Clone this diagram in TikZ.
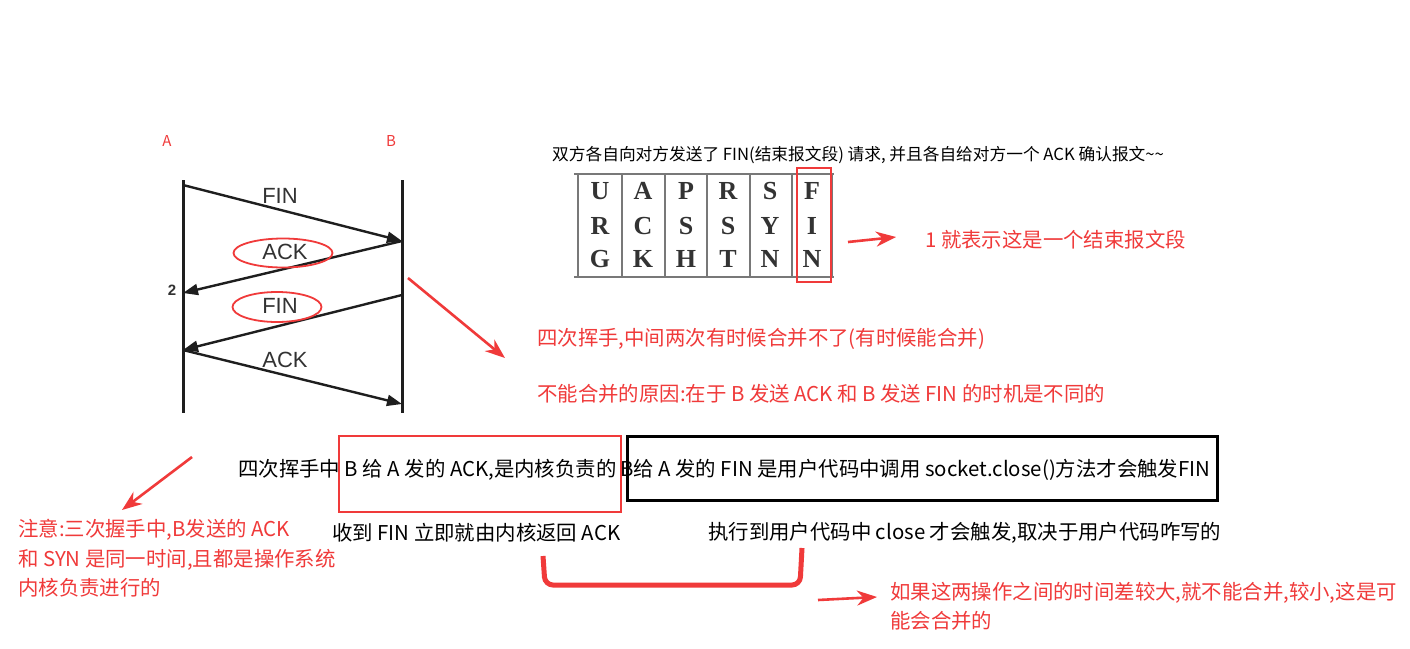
\documentclass[tikz,border=0pt]{standalone}
\usepackage{fontspec}
\setmainfont{Noto Sans CJK SC}
\newfontfamily\labf{Liberation Sans}
\newfontfamily\flagf{Liberation Serif}
\usetikzlibrary{arrows.meta,shapes.geometric}
\definecolor{annored}{RGB}{240,58,58}
\definecolor{seqgray}{RGB}{30,30,30}
\definecolor{labgray}{RGB}{50,50,50}
\definecolor{tabgray}{RGB}{120,120,120}
\tikzset{
  txt/.style={inner sep=0pt, anchor=west, font=\fontsize{20.4}{24}\selectfont},
  redtxt/.style={txt, text=annored},
  seqline/.style={draw=seqgray, line width=3pt},
  msg/.style={draw=seqgray, line width=2.4pt, -{Triangle[length=15pt,width=11pt]}},
  msglab/.style={inner sep=0pt, text=labgray, font=\labf\fontsize{22}{24}\selectfont},
  redell/.style={draw=annored, line width=1.8pt, ellipse, inner sep=0pt},
  redarrow/.style={draw=annored, fill=annored, line width=2.6pt, -{Stealth[length=20pt,width=15pt]}},
  flagletter/.style={inner sep=0pt, font=\flagf\bfseries\fontsize{26}{28}\selectfont, text=black!80},
  tabline/.style={draw=tabgray, line width=1.6pt}
}
\begin{document}
\begin{tikzpicture}[x=1pt,y=-1pt]
\useasboundingbox (0,0) rectangle (1410,648);
\fill[white] (0,0) rectangle (1410,648);

% ---------- sequence diagram ----------
\node[inner sep=0pt, text=annored, font=\fontsize{15}{16}\selectfont] (labA) at (167,141) {A};
\node[inner sep=0pt, text=annored, font=\fontsize{15}{16}\selectfont] (labB) at (391,141) {B};
\coordinate (Atop) at (183,180); \coordinate (Abot) at (183,413);
\coordinate (Btop) at (402,180); \coordinate (Bbot) at (402,413);
\draw[seqline] (Atop) -- (Abot);
\draw[seqline] (Btop) -- (Bbot);
\coordinate (a1) at (183,185);
\coordinate (b1) at (402,241);
\coordinate (a2) at (183,293);
\coordinate (b2) at (402,295);
\coordinate (a3) at (183,350);
\coordinate (b3) at (402,404);
\draw[msg] (a1) -- (b1);
\draw[msg] (b1) -- (a2);
\draw[msg] (b2) -- (a3);
\draw[msg] (a3) -- (b3);
\node[msglab] (fin1) at (280,196) {FIN};
\node[msglab] (ack1) at (285,252) {ACK};
\node[msglab] (fin2) at (280,306) {FIN};
\node[msglab] (ack2) at (285,360) {ACK};
\node[redell, minimum width=99pt, minimum height=29pt] (e1) at (283,253) {};
\node[redell, minimum width=89pt, minimum height=30pt] (e2) at (277,307) {};
\node[inner sep=0pt, text=labgray, font=\labf\bfseries\fontsize{15}{16}\selectfont] (two) at (172,290) {2};

% ---------- flags table ----------
\node[inner sep=0pt, anchor=west, font=\fontsize{16.7}{20}\selectfont] (title) at (552,155)
  {双方各自向对方发送了 FIN(结束报文段) 请求, 并且各自给对方一个 ACK 确认报文\textasciitilde\textasciitilde};
\coordinate (tTL) at (574,174); \coordinate (tTR) at (834,174);
\coordinate (tBL) at (574,277); \coordinate (tBR) at (834,277);
\draw[tabline] (tTL) -- (tTR);
\draw[tabline] (tBL) -- (tBR);
\foreach \xx in {578,622,665,707,750,792,832} {\draw[tabline, line width=1.2pt] (\xx,174) -- (\xx,277);}
\foreach \lt/\xx in {U/600,A/643,P/686,R/728,S/770,F/812} {\node[flagletter] at (\xx,191) {\lt};}
\foreach \lt/\xx in {R/600,C/643,S/686,S/728,Y/770,I/812} {\node[flagletter] at (\xx,226) {\lt};}
\foreach \lt/\xx in {G/600,K/643,H/686,T/728,N/770,N/812} {\node[flagletter] at (\xx,259) {\lt};}
\node[draw=annored, line width=2pt, inner sep=0pt, minimum width=34pt, minimum height=114pt] (finbox) at (814,225) {};
\node[redtxt] (finnote) at (925,240) {1 就表示这是一个结束报文段};
\draw[redarrow] (finbox.east) ++(16,17) coordinate (ar1s) -- (896,237) coordinate (ar1e);

% ---------- middle annotations ----------
\coordinate (ar2s) at (408,278);
\coordinate (ar2e) at (505,358);
\draw[redarrow] (ar2s) -- (ar2e);
\node[redtxt] (r1) at (537,339) {四次挥手,中间两次有时候合并不了(有时候能合并)};
\node[redtxt] (r2) at (537,394) {不能合并的原因:在于 B 发送 ACK 和 B 发送 FIN 的时机是不同的};

\node[draw=annored, line width=2.5pt, inner sep=0pt, minimum width=282pt, minimum height=76pt] (redbox) at (480,474) {};
\node[draw=black, line width=3pt, inner sep=0pt, minimum width=590pt, minimum height=64pt] (blkbox) at (922,468) {};
\node[txt] (m1) at (238,470) {四次挥手中 B 给 A 发的 ACK,是内核负责的};
\node[txt] (m2) at (620,470) {B给 A 发的 FIN 是用户代码中调用 socket.close()方法才会触发FIN};
\node[txt] (k1) at (332,533) {收到 FIN 立即就由内核返回 ACK};
\node[txt] (k2) at (708,533) {执行到用户代码中 close 才会触发,取决于用户代码咋写的};

% bracket
\coordinate (br1) at (543,556);
\coordinate (br2) at (545,585);
\coordinate (br3) at (800,585);
\coordinate (br4) at (802,548);
\draw[annored, line width=5pt, rounded corners=8pt] (br1) -- (br2) -- (br3) -- (br4);

\coordinate (ar4s) at (818,600);
\coordinate (ar4e) at (877,597);
\draw[redarrow] (ar4s) -- (ar4e);
\node[redtxt] (b1t) at (890,593) {如果这两操作之间的时间差较大,就不能合并,较小,这是可};
\node[redtxt] (b2t) at (890,621) {能会合并的};

% left note
\coordinate (ar3s) at (192,457);
\coordinate (ar3e) at (122,510);
\draw[redarrow] (ar3s) -- (ar3e);
\node[redtxt] (l1) at (18,530) {注意:三次握手中,B发送的 ACK};
\node[redtxt] (l2) at (18,560) {和 SYN 是同一时间,且都是操作系统};
\node[redtxt] (l3) at (18,588) {内核负责进行的};
\end{tikzpicture}
\end{document}
